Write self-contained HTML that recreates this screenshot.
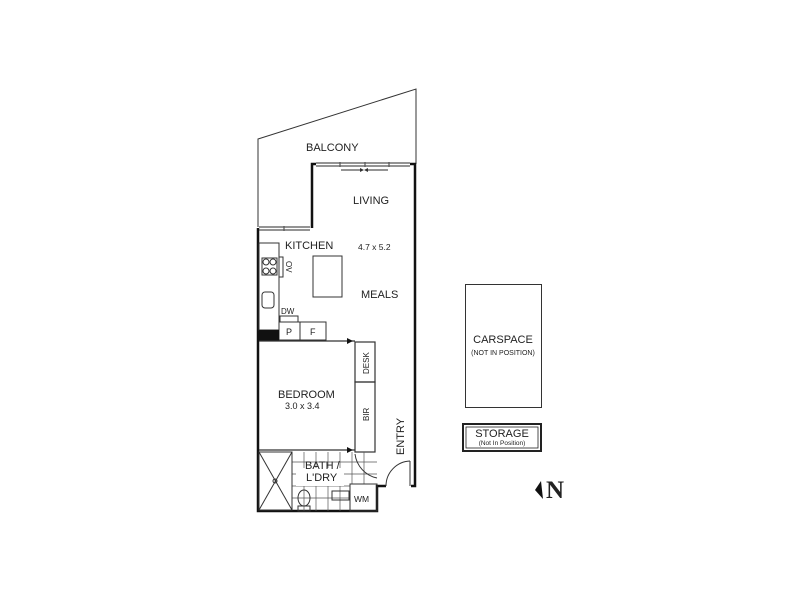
<!DOCTYPE html>
<html><head><meta charset="utf-8"><style>
html,body{margin:0;padding:0;background:#fff;}
svg{display:block;}
text{font-family:"Liberation Sans",sans-serif;fill:#222;}
</style></head><body>
<svg width="800" height="600" viewBox="0 0 800 600" xmlns="http://www.w3.org/2000/svg">
<rect width="800" height="600" fill="#fff"/>
<polyline points="258,227 258,139 416,89 416,164" fill="none" stroke="#333" stroke-width="1"/>
<g fill="none" stroke="#111" stroke-width="2.5">
<polyline points="312,228 312,164 316,164"/>
<polyline points="410,164 415,164 415,486 411,486"/>
<polyline points="258,228 258,511 377,511 377,486 386,486"/>
</g>
<g stroke="#555" stroke-width="1.2" fill="none">
<line x1="316" y1="163" x2="410" y2="163"/><line x1="316" y1="166" x2="410" y2="166"/>
<line x1="340" y1="162" x2="340" y2="167"/><line x1="365" y1="162" x2="365" y2="167"/><line x1="389" y1="162" x2="389" y2="167"/>
<line x1="341" y1="170" x2="360" y2="170"/><line x1="368" y1="170" x2="388" y2="170"/>
<line x1="259" y1="227" x2="310" y2="227"/><line x1="259" y1="230" x2="310" y2="230"/>
<line x1="284" y1="226" x2="284" y2="231"/>
</g>
<polygon points="360,168 360,172 364,170" fill="#333"/><polygon points="368,168 368,172 364,170" fill="#333"/>
<g stroke="#333" stroke-width="1" fill="none">
<rect x="259" y="243" width="20" height="87"/>
<rect x="279" y="257" width="4" height="20"/>
<rect x="262" y="258" width="15" height="17"/>
<circle cx="266" cy="262" r="3"/><circle cx="273" cy="262" r="3"/><circle cx="266" cy="271" r="3"/><circle cx="273" cy="271" r="3"/>
<rect x="262" y="292" width="12" height="16" rx="3"/>
<rect x="280" y="316" width="18" height="6"/>
<rect x="279" y="322" width="21" height="18"/>
<rect x="300" y="322" width="26" height="18"/>
<rect x="313" y="256" width="29" height="41"/>
</g>
<rect x="259" y="330" width="20" height="11" fill="#111"/>
<g stroke="#333" stroke-width="1.2" fill="none">
<line x1="259" y1="341" x2="355" y2="341"/>
<rect x="355" y="342" width="20" height="40"/>
<rect x="355" y="382" width="20" height="70"/>
<line x1="259" y1="450" x2="355" y2="450"/>
</g>
<polygon points="347,338 347,344 353,341" fill="#111"/>
<polygon points="347,447 347,453 353,450" fill="#111"/>
<g stroke="#555" stroke-width="0.7" fill="none">
<line x1="292" y1="462" x2="377" y2="462"/><line x1="292" y1="474" x2="377" y2="474"/><line x1="292" y1="486" x2="350" y2="486"/><line x1="292" y1="498" x2="350" y2="498"/>
<line x1="304" y1="452" x2="304" y2="511"/><line x1="316" y1="452" x2="316" y2="511"/><line x1="328" y1="452" x2="328" y2="511"/><line x1="340" y1="452" x2="340" y2="511"/><line x1="352" y1="452" x2="352" y2="484"/><line x1="364" y1="452" x2="364" y2="484"/>
</g>
<rect x="296" y="468" width="48" height="18" fill="#fff"/>
<g stroke="#333" stroke-width="1" fill="none">
<rect x="259" y="452" width="33" height="58"/>
<line x1="259" y1="452" x2="292" y2="510"/><line x1="292" y1="452" x2="259" y2="510"/>
<circle cx="275" cy="481" r="2"/>
<ellipse cx="304" cy="498" rx="6" ry="8"/><rect x="298" y="506" width="12" height="5"/>
<rect x="332" y="491" width="17" height="9"/>
<rect x="350" y="484" width="27" height="27"/>
<path d="M355,454 A28,28 0 0 0 377,478"/>
<line x1="410" y1="461" x2="410" y2="486"/>
<path d="M410,461 A25,25 0 0 0 386,486"/>
</g>
<rect x="465.5" y="284.5" width="76" height="123" fill="none" stroke="#333" stroke-width="1"/>
<rect x="463" y="424" width="78" height="27" fill="none" stroke="#222" stroke-width="2"/>
<rect x="466" y="427" width="72" height="21" fill="none" stroke="#222" stroke-width="0.8"/>
<polygon points="541,481 535,490 543,499" fill="#111"/>
<text x="546" y="498" font-size="25" font-weight="bold" style="font-family:'Liberation Serif',serif">N</text>
<g font-size="11">
<text x="306" y="151">BALCONY</text>
<text x="353" y="204">LIVING</text>
<text x="285" y="249">KITCHEN</text>
<text x="358" y="250" font-size="8.5">4.7 x 5.2</text>
<text x="361" y="298">MEALS</text>
<text x="278" y="398">BEDROOM</text>
<text x="285" y="409" font-size="9">3.0 x 3.4</text>
<text x="305" y="469">BATH /</text>
<text x="306" y="481">L'DRY</text>
<text x="503" y="343" font-size="11" text-anchor="middle">CARSPACE</text>
<text x="503" y="355" font-size="7" text-anchor="middle">(NOT IN POSITION)</text>
<text x="502" y="437" font-size="11" text-anchor="middle">STORAGE</text>
<text x="502" y="445" font-size="6.5" text-anchor="middle">(Not In Position)</text>
</g>
<g font-size="8">
<text x="281" y="314">DW</text>
<text x="286" y="335" font-size="9">P</text>
<text x="310" y="335" font-size="9">F</text>
<text x="354" y="502" font-size="8.5">WM</text>
<text transform="translate(286,267) rotate(90)" x="-6" y="0">OV</text>
<text transform="translate(369,374) rotate(-90)" font-size="8">DESK</text>
<text transform="translate(369,421) rotate(-90)" font-size="8">BIR</text>
<text transform="translate(404,455) rotate(-90)" font-size="11">ENTRY</text>
</g>
</svg>
</body></html>
